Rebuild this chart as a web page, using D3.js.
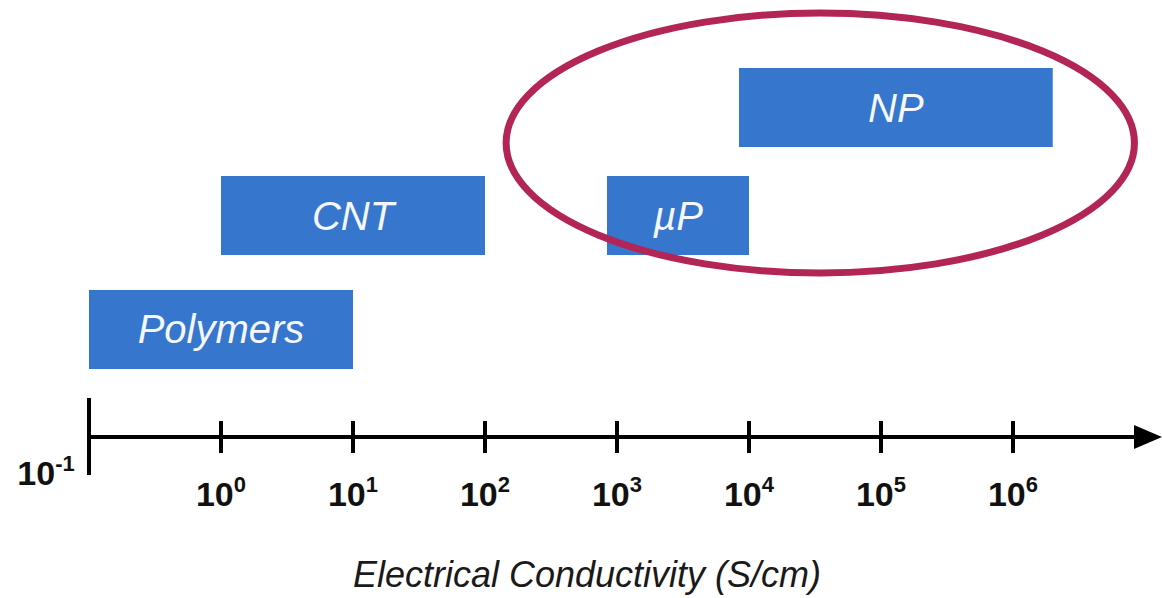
<!DOCTYPE html>
<html>
<head>
<meta charset="utf-8">
<script src="https://cdn.jsdelivr.net/npm/d3@7"></script>
<style>
  html, body { margin: 0; padding: 0; background: #ffffff; }
  svg { display: block; }
  text { font-family: "Liberation Sans", Arial, Helvetica, sans-serif; }
</style>
</head>
<body>
<svg id="chart" width="1162" height="598"></svg>
<script>
// ---- data ----
const categories = ["Polymers", "CNT", "\u00b5P", "NP"];
const rangeLow  = [0.1, 1, 840, 8400];      // S/cm
const rangeHigh = [10, 100, 10000, 2.0e6];  // S/cm
const rowIndex  = [0, 1, 1, 2];
const tickExponents = [0, 1, 2, 3, 4, 5, 6];
const originExponent = -1;
const axisTitle = "Electrical Conductivity (S/cm)";
// highlighted region (annotation), in S/cm
const highlightLow = 10 ** 2.16;
const highlightHigh = 10 ** 6.92;

// ---- layout ----
const W = 1162, H = 598;
const axisY = 437;
const svg = d3.select("#chart");

const x = d3.scaleLog().domain([0.1, 1e6]).range([89, 1013]);
const y = d3.scaleBand().domain(["2", "1", "0"]).range([68, 369]).paddingInner(0.288).paddingOuter(0);

const barColor = "#3676cc";
const ringColor = "#b32457";

// bars
const bars = svg.append("g");
categories.forEach((c, i) => {
  const x0 = x(rangeLow[i]), x1 = x(rangeHigh[i]);
  const yy = y(String(rowIndex[i])) - (rowIndex[i] === 1 ? 3 : 0);
  const bw = y.bandwidth();
  bars.append("rect")
    .attr("x", x0).attr("y", yy)
    .attr("width", x1 - x0).attr("height", bw)
    .attr("fill", barColor);
  bars.append("text")
    .attr("x", (x0 + x1) / 2)
    .attr("y", yy + bw / 2 + 14)
    .attr("text-anchor", "middle")
    .attr("font-size", 40)
    .attr("font-style", "italic")
    .attr("fill", "#f4f7fc")
    .text(c);
});

// highlight ellipse
const eL = x(highlightLow), eR = x(highlightHigh);
svg.append("ellipse")
  .attr("cx", (eL + eR) / 2)
  .attr("cy", 143)
  .attr("rx", (eR - eL) / 2)
  .attr("ry", 130)
  .attr("fill", "none")
  .attr("stroke", ringColor)
  .attr("stroke-width", 7);

// axis
const axis = svg.append("g").attr("stroke", "#000").attr("stroke-width", 4);
const x0axis = x(10 ** originExponent);
axis.append("line").attr("x1", x0axis).attr("x2", 1140).attr("y1", axisY).attr("y2", axisY);
axis.append("line").attr("x1", x0axis).attr("x2", x0axis).attr("y1", 398).attr("y2", 475);
tickExponents.forEach(e => {
  axis.append("line")
    .attr("x1", x(10 ** e)).attr("x2", x(10 ** e))
    .attr("y1", 421).attr("y2", 453);
});
svg.append("path")
  .attr("d", `M1134,${axisY - 12} L1162,${axisY} L1134,${axisY + 12} Z`)
  .attr("fill", "#000");

// tick labels
function powLabel(px, py, e) {
  const t = svg.append("text")
    .attr("x", px).attr("y", py)
    .attr("text-anchor", "middle")
    .attr("font-size", 34)
    .attr("font-weight", "bold")
    .attr("fill", "#111");
  t.append("tspan").text("10");
  t.append("tspan").attr("dy", -14).attr("font-size", 22).text(String(e));
}
tickExponents.forEach(e => powLabel(x(10 ** e), 506, e));
powLabel(46, 485, originExponent);

// axis title
svg.append("text")
  .attr("x", 587).attr("y", 587)
  .attr("text-anchor", "middle")
  .attr("font-size", 36)
  .attr("font-style", "italic")
  .attr("fill", "#1a1a1a")
  .text(axisTitle);
</script>
</body>
</html>
